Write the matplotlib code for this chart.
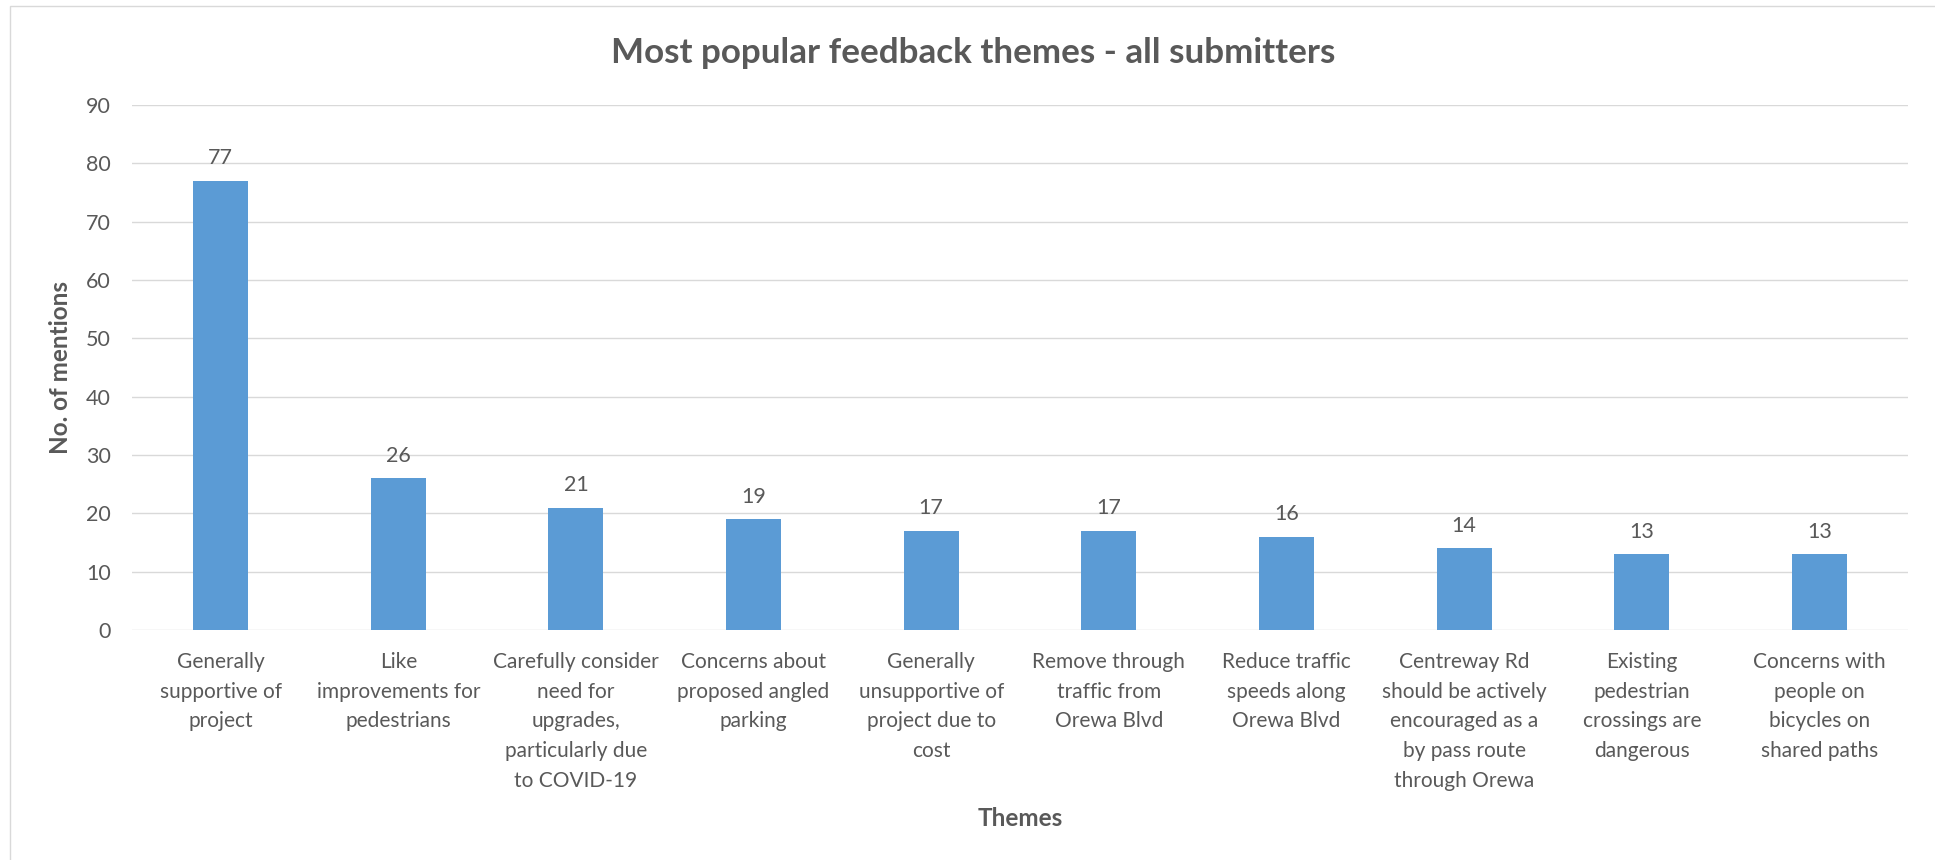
import matplotlib
matplotlib.use('Agg')
import matplotlib.pyplot as plt
from matplotlib.patches import Rectangle

# feedback theme counts
themes = [
    'Generally\nsupportive of\nproject',
    'Like\nimprovements for\npedestrians',
    'Carefully consider\nneed for\nupgrades,\nparticularly due\nto COVID-19',
    'Concerns about\nproposed angled\nparking',
    'Generally\nunsupportive of\nproject due to\ncost',
    'Remove through\ntraffic from\nOrewa Blvd',
    'Reduce traffic\nspeeds along\nOrewa Blvd',
    'Centreway Rd\nshould be actively\nencouraged as a\nby pass route\nthrough Orewa',
    'Existing\npedestrian\ncrossings are\ndangerous',
    'Concerns with\npeople on\nbicycles on\nshared paths',
]
mentions = [77, 26, 21, 19, 17, 17, 16, 14, 13, 13]
yticks = [0, 10, 20, 30, 40, 50, 60, 70, 80, 90]

txt = '#595959'
grid_col = '#D9D9D9'
bar_col = '#5B9BD5'

plt.rcParams['font.family'] = ['Lato', 'DejaVu Sans']

fig = plt.figure(figsize=(19.35, 8.6), dpi=100)
ax = fig.add_axes([0.0681, 0.2674, 0.9181, 0.6105])

x = list(range(len(themes)))
bars = ax.bar(x, mentions, width=0.31, color=bar_col, zorder=3)
ax.bar_label(bars, labels=[str(v) for v in mentions], padding=9,
             fontsize=15.5, color=txt)

ax.set_xlim(-0.5, len(themes) - 0.5)
ax.set_ylim(0, 90)
ax.set_yticks(yticks)
ax.set_xticks(x)
ax.set_xticklabels(themes, fontsize=15, color=txt, linespacing=1.6)
ax.tick_params(axis='y', length=0, pad=15, labelsize=15.5, labelcolor=txt)
ax.tick_params(axis='x', length=0, pad=16)
ax.grid(axis='y', color=grid_col, linewidth=1.0, zorder=0)
for s in ax.spines.values():
    s.set_visible(False)

ax.set_ylabel('No. of mentions', fontsize=17.5, fontweight='bold', color=txt, labelpad=10)
ax.set_xlabel('Themes', fontsize=17.5, fontweight='bold', color=txt)
ax.xaxis.set_label_coords(0.5, -0.3728)
ax.xaxis.label.set_va('baseline')

fig.text(0.503, 0.927, 'Most popular feedback themes - all submitters',
         ha='center', va='baseline', fontsize=25.2, fontweight='bold', color=txt)

# chart area border (cropped on right/bottom)
fig.patches.append(Rectangle((10 / 1935, -0.1), 2, 1.1 - 6 / 860, transform=fig.transFigure,
                             fill=False, edgecolor=grid_col, linewidth=1.0))

fig.savefig('out.png', dpi=100)
